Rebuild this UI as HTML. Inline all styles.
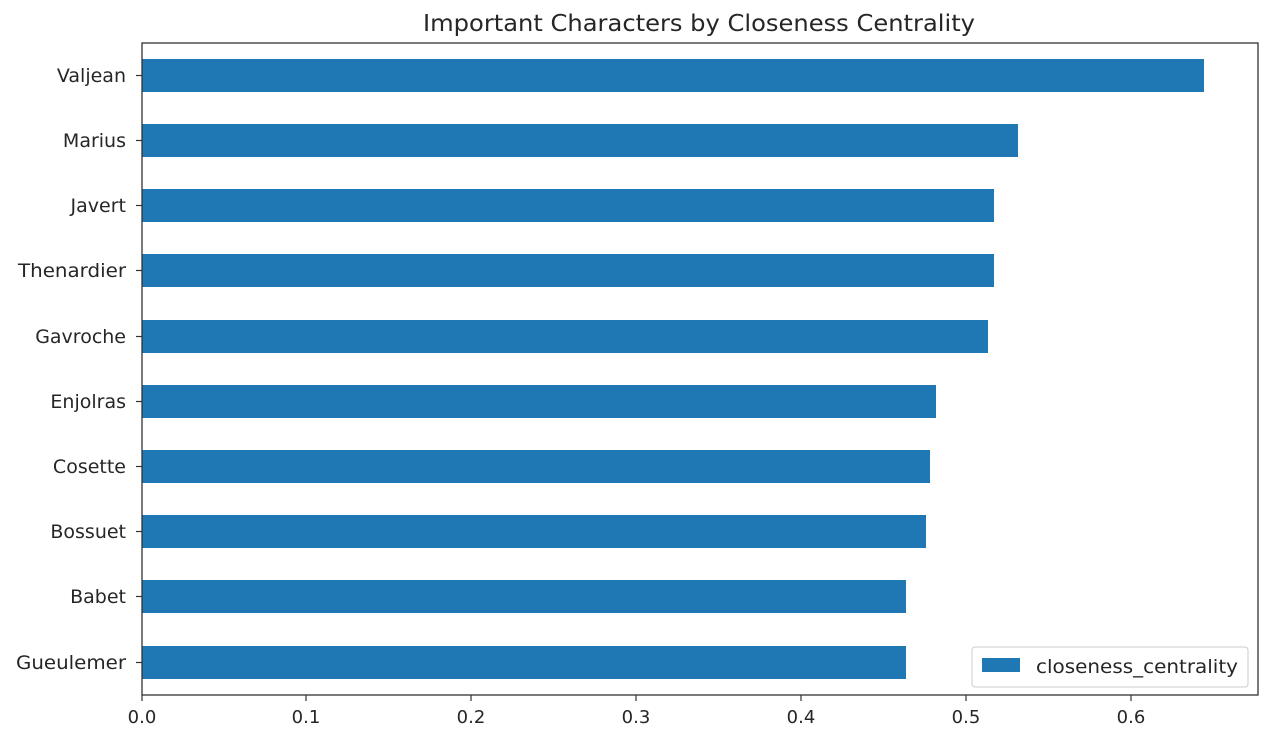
<!DOCTYPE html>
<html><head><meta charset="utf-8"><style>body{margin:0;background:#fff}svg{display:block}text{font-family:"DejaVu Sans","Liberation Sans",sans-serif;fill:#262626}</style></head>
<body>
<svg width="1280" height="740" xmlns="http://www.w3.org/2000/svg">
<text x="699" y="31" font-size="23" text-anchor="middle" textLength="552" lengthAdjust="spacingAndGlyphs">Important Characters by Closeness Centrality</text>
<g fill="#1f77b4">
<rect x="142" y="59" width="1062" height="33"/>
<rect x="142" y="124" width="876" height="33"/>
<rect x="142" y="189" width="852" height="33"/>
<rect x="142" y="254" width="852" height="33"/>
<rect x="142" y="320" width="846" height="33"/>
<rect x="142" y="385" width="794" height="33"/>
<rect x="142" y="450" width="788" height="33"/>
<rect x="142" y="515" width="784" height="33"/>
<rect x="142" y="580" width="764" height="33"/>
<rect x="142" y="646" width="764" height="33"/>
</g>
<rect x="142" y="43" width="1116" height="652" fill="none" stroke="#333" stroke-width="1.3"/>
<g font-size="19" text-anchor="end">
<text x="126" y="82">Valjean</text>
<text x="126" y="147">Marius</text>
<text x="126" y="212">Javert</text>
<text x="126" y="277" textLength="108" lengthAdjust="spacingAndGlyphs">Thenardier</text>
<text x="126" y="343">Gavroche</text>
<text x="126" y="408">Enjolras</text>
<text x="126" y="473">Cosette</text>
<text x="126" y="538">Bossuet</text>
<text x="126" y="603">Babet</text>
<text x="126" y="669" textLength="110" lengthAdjust="spacingAndGlyphs">Gueulemer</text>
</g>
<g stroke="#333" stroke-width="1.2">
<line x1="136" x2="142" y1="75.5" y2="75.5"/><line x1="136" x2="142" y1="140.5" y2="140.5"/><line x1="136" x2="142" y1="205.5" y2="205.5"/><line x1="136" x2="142" y1="270.5" y2="270.5"/><line x1="136" x2="142" y1="336.5" y2="336.5"/><line x1="136" x2="142" y1="401.5" y2="401.5"/><line x1="136" x2="142" y1="466.5" y2="466.5"/><line x1="136" x2="142" y1="531.5" y2="531.5"/><line x1="136" x2="142" y1="596.5" y2="596.5"/><line x1="136" x2="142" y1="662.5" y2="662.5"/>
<line x1="142" x2="142" y1="695" y2="701"/><line x1="306" x2="306" y1="695" y2="701"/><line x1="471" x2="471" y1="695" y2="701"/><line x1="636" x2="636" y1="695" y2="701"/><line x1="801" x2="801" y1="695" y2="701"/><line x1="966" x2="966" y1="695" y2="701"/><line x1="1131" x2="1131" y1="695" y2="701"/>
</g>
<g font-size="18" text-anchor="middle">
<text x="142" y="723">0.0</text><text x="306" y="723">0.1</text><text x="471" y="723">0.2</text><text x="636" y="723">0.3</text><text x="801" y="723">0.4</text><text x="966" y="723">0.5</text><text x="1131" y="723">0.6</text>
</g>
<rect x="972" y="647" width="276" height="40" rx="3" fill="#fff" stroke="#ccc"/>
<rect x="982" y="658" width="38" height="14" fill="#1f77b4"/>
<text x="1036" y="673" font-size="19" textLength="202" lengthAdjust="spacingAndGlyphs">closeness_centrality</text>
</svg>
</body></html>
